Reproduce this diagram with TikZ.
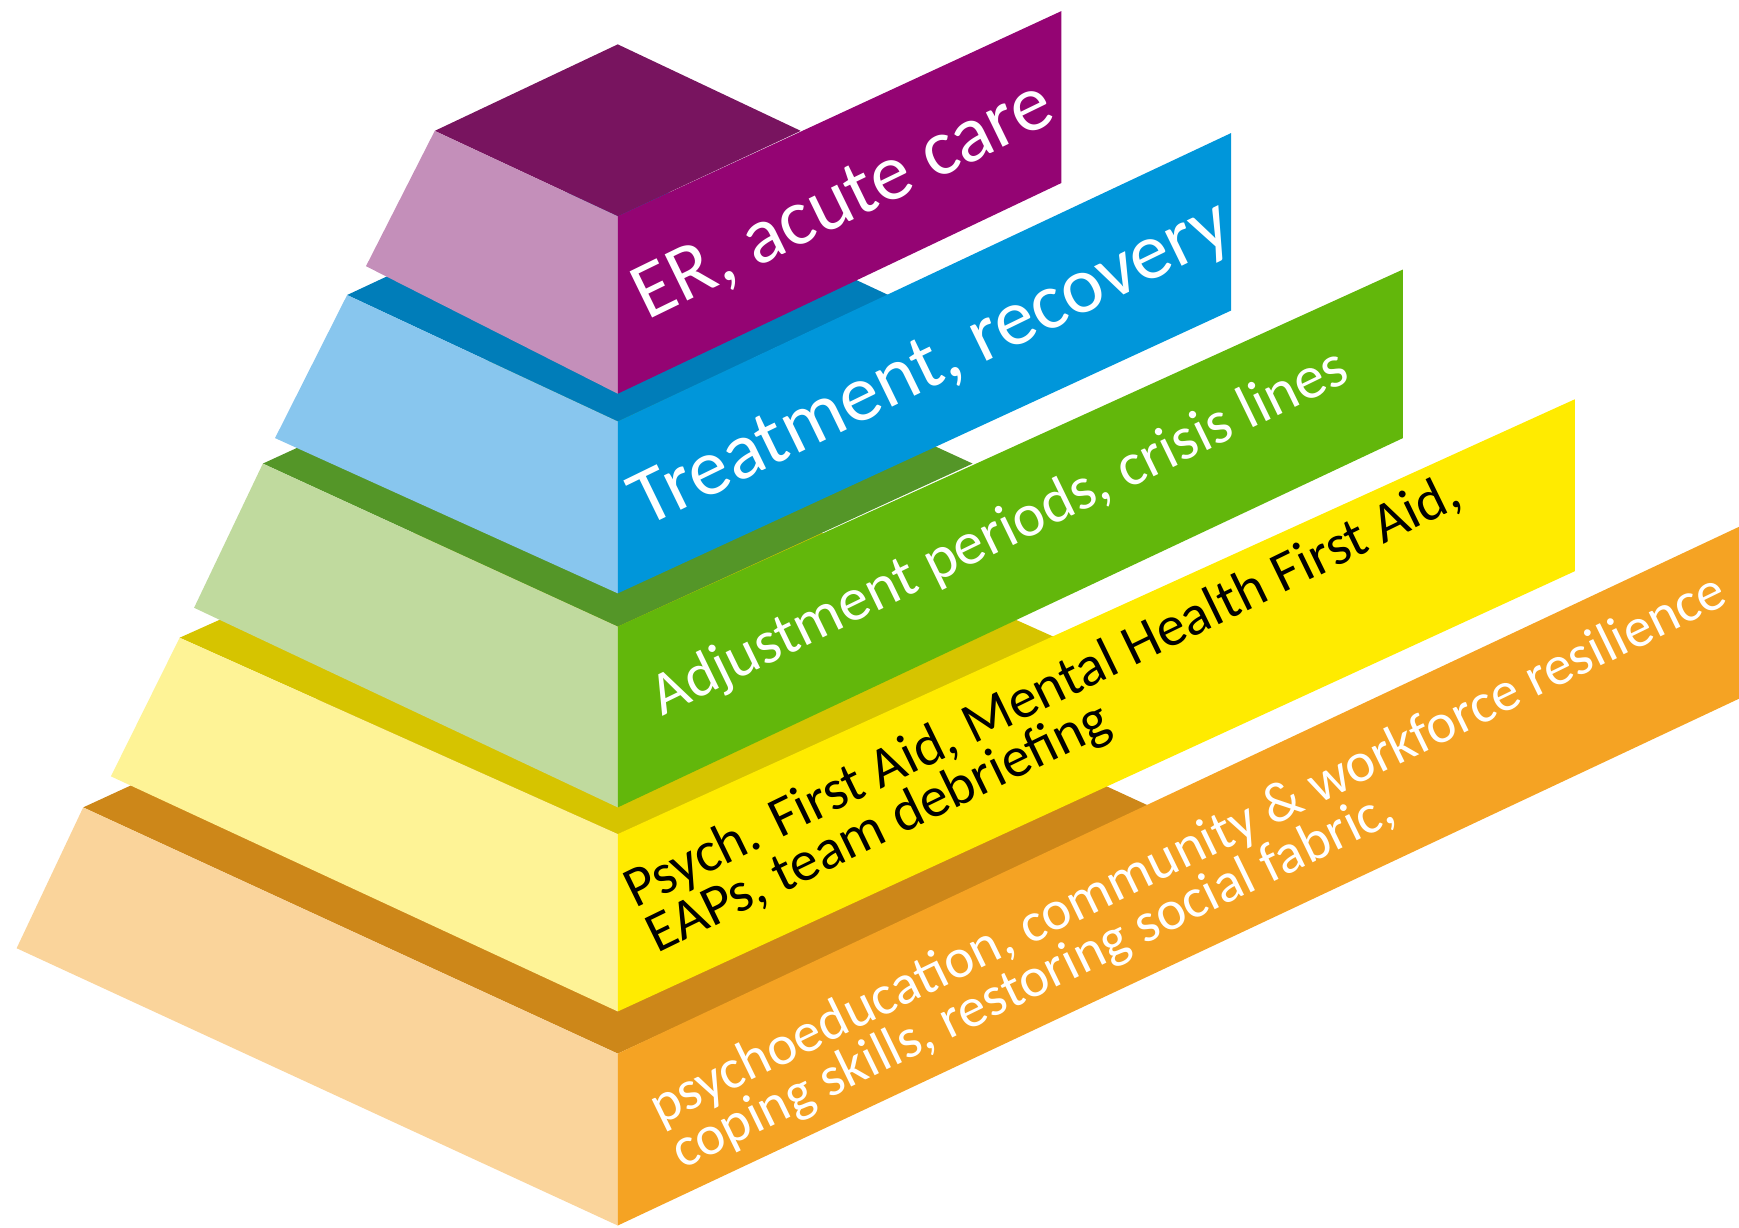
\documentclass[tikz,border=0pt]{standalone}
\usepackage{fontspec}
\setmainfont{Carlito}
\definecolor{erband}{RGB}{148,4,115}
\definecolor{ertop}{RGB}{120,20,95}
\definecolor{erside}{RGB}{196,143,186}
\definecolor{trband}{RGB}{0,150,218}
\definecolor{trtop}{RGB}{0,125,185}
\definecolor{trside}{RGB}{136,198,238}
\definecolor{adband}{RGB}{98,183,11}
\definecolor{adtop}{RGB}{84,150,40}
\definecolor{adside}{RGB}{192,218,158}
\definecolor{pfband}{RGB}{255,235,0}
\definecolor{pftop}{RGB}{214,196,0}
\definecolor{pfside}{RGB}{254,243,150}
\definecolor{psband}{RGB}{245,163,35}
\definecolor{pstop}{RGB}{205,135,25}
\definecolor{psside}{RGB}{250,212,155}
\tikzset{
  bannertext/.style={anchor=base west, rotate=26, inner sep=0pt, text=white, align=left},
}
\begin{document}
\begin{tikzpicture}[x=1.109pt,y=-1.109pt]
    \useasboundingbox (0,0) rectangle (1568,1107);
    \fill[pstop] (75,728) -- (557,506) -- (1039,728) -- (557,950) -- cycle;
    \fill[psside] (75,728) -- (15,855) -- (557,1105) -- (557,950) -- cycle;
    \fill[psband] (557,950) -- (1568,475) -- (1568,630) -- (557,1105) -- cycle;
    \fill[pftop] (162,575) -- (557,398) -- (952,575) -- (557,752) -- cycle;
    \fill[pfside] (162,575) -- (100,700) -- (557,912) -- (557,752) -- cycle;
    \fill[pfband] (557,752) -- (1420,360) -- (1420,515) -- (557,912) -- cycle;
    \fill[adtop] (237,418) -- (557,271) -- (877,418) -- (557,565) -- cycle;
    \fill[adside] (237,418) -- (175,548) -- (557,728) -- (557,565) -- cycle;
    \fill[adband] (557,565) -- (1265,243) -- (1265,395) -- (557,728) -- cycle;
    \fill[trtop] (313,266) -- (557,152) -- (801,266) -- (557,380) -- cycle;
    \fill[trside] (313,266) -- (248,395) -- (557,535) -- (557,380) -- cycle;
    \fill[trband] (557,380) -- (1110,120) -- (1110,280) -- (557,535) -- cycle;
    \fill[ertop] (392,118) -- (557,40) -- (722,118) -- (557,195) -- cycle;
    \fill[erside] (392,118) -- (330,240) -- (557,355) -- (557,195) -- cycle;
    \fill[erband] (557,195) -- (957,10) -- (957,165) -- (557,355) -- cycle;
    \node[bannertext, font=\fontsize{80}{80}\selectfont] (er) at (584,289) {ER, acute care};
    \node[bannertext, font=\fontsize{80}{80}\selectfont] (treat) at (582,476) {Treatment, recovery};
    \node[bannertext, font=\fontsize{61}{61}\selectfont] (adjust) at (597,646) {Adjustment periods, crisis lines};
    \node[bannertext, text=black, font=\fontsize{57}{50}\selectfont] (pfa) at (593,860) {Psych. First Aid, Mental Health First Aid,\\EAPs, team debriefing};
    \node[bannertext, font=\fontsize{56}{50}\selectfont] (psyed) at (615,1055) {psychoeducation, community \& workforce resilience\\coping skills, restoring social fabric,};
\end{tikzpicture}
\end{document}
